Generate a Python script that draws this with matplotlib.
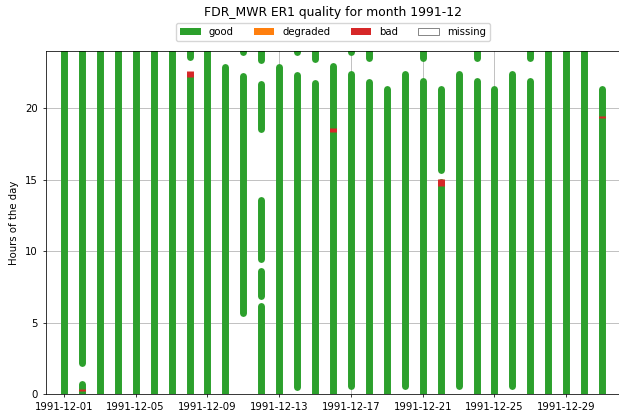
import numpy as np
import matplotlib
matplotlib.use("Agg")
import matplotlib.pyplot as plt
import matplotlib.dates as mdates
from matplotlib.patches import Patch

# day of month, start hour, end hour for each "good" stretch
good_day = [1, 2, 2, 3, 4, 5, 6, 7, 8, 8, 9, 10, 11, 11,
            12, 12, 12, 12, 12, 13, 14, 14, 15, 15, 16, 17, 17,
            18, 18, 19, 20, 20, 21, 21, 22, 22, 23, 24, 24, 25,
            26, 27, 27, 28, 29, 30, 31]
good_lo = [0, 2.15, 0, 0, 0, 0, 0, 0, 23.6, 0, 0, 0, 23.9, 5.65,
           23.37, 18.55, 9.43, 6.87, 0, 0, 23.95, 0.48, 23.42, 0, 0, 23.95, 0.53,
           23.5, 0, 0, 23.97, 0.58, 23.49, 0, 15.68, 0, 0.58, 23.49, 0, 0,
           0.58, 23.49, 0, 0, 0, 0, 0]
good_hi = [24, 24, 0.73, 24, 24, 24, 24, 24, 24, 22.35, 24, 22.9, 24, 22.25,
           24, 21.71, 13.55, 8.61, 6.13, 22.87, 24, 22.35, 24, 21.78, 22.92, 24, 22.4,
           24, 21.83, 21.31, 24, 22.41, 24, 21.9, 21.31, 14.8, 22.41, 24, 21.9, 21.31,
           22.41, 24, 21.9, 24, 24, 24, 21.31]

# "bad" stretches
bad_day = [2, 8, 16, 22, 31]
bad_lo = [0.2, 22.17, 18.3, 14.57, 19.33]
bad_hi = [0.35, 22.59, 18.6, 15.01, 19.45]

tick_days = [1, 5, 9, 13, 17, 21, 25, 29]
month = "1991-12"
colors = {"good": "#2ca02c", "degraded": "#ff7f0e", "bad": "#d62728"}

plt.rcParams["font.size"] = 7.3
plt.rcParams["axes.linewidth"] = 0.55
plt.rcParams["xtick.major.width"] = 0.55
plt.rcParams["ytick.major.width"] = 0.55
plt.rcParams["xtick.major.size"] = 2.4
plt.rcParams["ytick.major.size"] = 2.4

def to_dates(days):
    return np.array([np.datetime64(month + "-%02d" % d) for d in days])

fig = plt.figure(figsize=(6.19, 4.12), dpi=100)
ax = fig.add_axes([46 / 619, 18 / 412, (620 - 46) / 619, 343 / 412])

lc = ax.vlines(to_dates(good_day), good_lo, good_hi, colors=colors["good"], linewidth=5.0, zorder=2)
lc.set_capstyle("round")
lc2 = ax.vlines(to_dates(bad_day), bad_lo, bad_hi, colors=colors["bad"], linewidth=5.0, zorder=3)
lc2.set_capstyle("butt")

ax.set_ylim(0, 24)
ax.set_xlim(np.datetime64("1991-11-30"), np.datetime64("1992-01-01"))
ax.set_xticks(to_dates(tick_days))
ax.xaxis.set_major_formatter(mdates.DateFormatter("%Y-%m-%d"))
ax.set_yticks([0, 5, 10, 15, 20])
ax.grid(True, color="#b0b0b0", linewidth=0.55)
ax.set_axisbelow(True)
ax.set_ylabel("Hours of the day")
ax.set_title("FDR_MWR ER1 quality for month " + month, fontsize=8.9, pad=25)

handles = [Patch(facecolor=colors["good"], label="good"),
           Patch(facecolor=colors["degraded"], label="degraded"),
           Patch(facecolor=colors["bad"], label="bad"),
           Patch(facecolor="white", edgecolor="#555555", linewidth=0.5, label="missing")]
ax.legend(handles=handles, loc="lower center", bbox_to_anchor=(0.5, 1.02), ncol=4,
          frameon=True, borderaxespad=0.3)

fig.savefig("out.png", dpi=100)
